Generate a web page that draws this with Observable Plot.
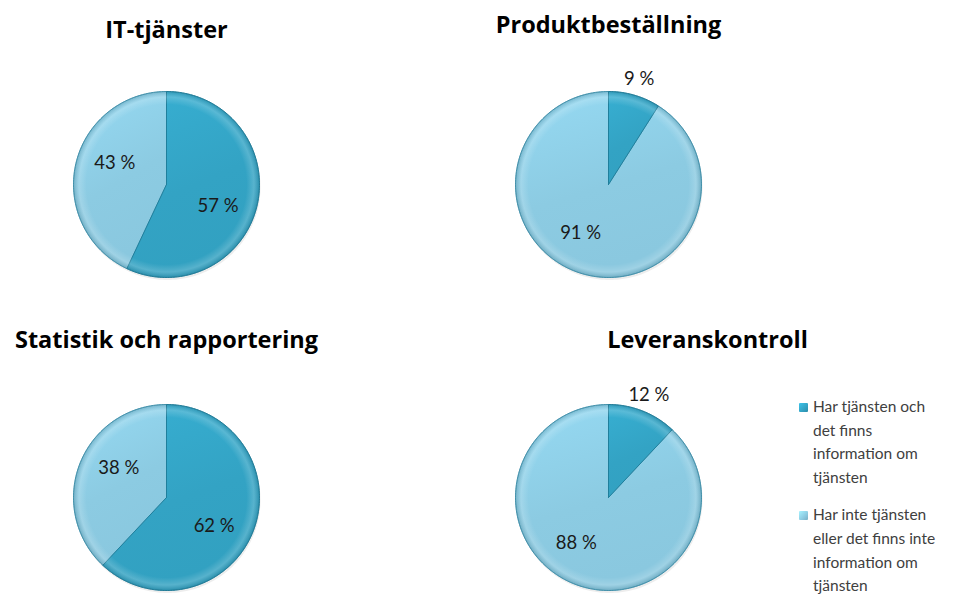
<!DOCTYPE html>
<html><head><meta charset="utf-8">
<script src="https://cdn.jsdelivr.net/npm/d3@7"></script>
<script src="https://cdn.jsdelivr.net/npm/@observablehq/plot@0.6"></script>
<style>
body{margin:0;background:#fff;font-family:Lato,"Open Sans",sans-serif;}
#wrap{position:relative;width:963px;height:596px;overflow:hidden;}
#legend{position:absolute;left:799px;top:395px;font-size:15.5px;line-height:23.6px;color:#404040;width:160px;}
.item{display:flex;align-items:flex-start;margin-bottom:14px;}
.sw{flex:0 0 9px;width:9px;height:9px;margin-top:8px;margin-right:5px;border-radius:1px;}
</style></head><body>
<div id="wrap"><div id="chart"></div><div id="legend"></div></div>
<script>
const titles = ["IT-tjänster", "Produktbeställning", "Statistik och rapportering", "Leveranskontroll"];
const harTjansten = [57, 9, 62, 12];
const harInte = [43, 91, 38, 88];
const categories = ["Har tjänsten och det finns information om tjänsten", "Har inte tjänsten eller det finns inte information om tjänsten"];
const legendLines = [["Har tjänsten och", "det finns", "information om", "tjänsten"], ["Har inte tjänsten", "eller det finns inte", "information om", "tjänsten"]];
const colors = ["#33a3c4", "#8ccbe2"];
const strokes = ["#1f7f9c", "#5fa8c2"];

const R = 0.93;
const cols = titles.map((t, i) => i % 2);
const rows = titles.map((t, i) => Math.floor(i / 2));

const polys = [];
const labels = [];
const rims = [];
titles.forEach((t, i) => {
  const vals = [harTjansten[i], harInte[i]];
  const total = d3.sum(vals);
  let acc = 0;
  vals.forEach((v, j) => {
    const a0 = acc / total * 2 * Math.PI;
    const a1 = (acc + v) / total * 2 * Math.PI;
    acc += v;
    const pts = [{x: 0, y: 0}];
    const n = Math.max(4, Math.ceil((a1 - a0) / (Math.PI / 180)));
    for (let k = 0; k <= n; k++) {
      const a = a0 + (a1 - a0) * k / n;
      pts.push({x: R * Math.sin(a), y: R * Math.cos(a)});
    }
    pts.push({x: 0, y: 0});
    pts.forEach((p, k) => polys.push({...p, k, pie: i, slice: j, key: i + "-" + j, col: cols[i], row: rows[i]}));
    const frac = v / total;
    const mid = (a0 + a1) / 2 + (frac < 0.2 ? 0 : frac > 0.8 ? 0.24 : 0.17);
    const lr = frac < 0.2 ? R * 1.18 : R * 0.6;
    labels.push({x: lr * Math.sin(mid), y: lr * Math.cos(mid), text: v + " %", col: cols[i], row: rows[i]});
  });
  for (let k = 0; k <= 360; k++) {
    const a = k / 180 * Math.PI;
    rims.push({x: R * Math.sin(a), y: R * Math.cos(a), pie: i, col: cols[i], row: rows[i]});
  }
});
const titleData = titles.map((t, i) => ({text: t, col: cols[i], row: rows[i], i}));
const titleStyle = {x: 0, y: R, text: "text", fx: "col", fy: "row", fontSize: 23.5, fontWeight: "bold", fill: "#000", fontFamily: "'Open Sans', sans-serif", lineAnchor: "middle"};

const plot = Plot.plot({
  width: 963,
  height: 596,
  marginLeft: 16,
  marginRight: 205,
  marginTop: 89,
  marginBottom: 4,
  fx: {domain: [0, 1], paddingInner: 142 / 442, paddingOuter: 0, axis: null},
  fy: {domain: [0, 1], paddingInner: 123 / 313, paddingOuter: 0, axis: null},
  x: {domain: [-1.5, 1.5], axis: null},
  y: {domain: [-0.95, 0.95], axis: null},
  style: {fontFamily: "Lato, 'Open Sans', sans-serif", background: "#fff"},
  marks: [
    Plot.line(rims, {x: d => d.x + 0.01, y: d => d.y - 0.025, z: "pie", fx: "col", fy: "row", fill: "#000", fillOpacity: 0.07, stroke: "none"}),
    Plot.line(polys.filter(d => d.slice === 1), {x: "x", y: "y", z: "key", fx: "col", fy: "row", fill: "url(#gLight)", stroke: strokes[1], strokeWidth: 1}),
    Plot.line(polys.filter(d => d.slice === 0), {x: "x", y: "y", z: "key", fx: "col", fy: "row", fill: "url(#gDark)", stroke: strokes[0], strokeWidth: 1}),
    Plot.line(rims, {x: "x", y: "y", z: "pie", fx: "col", fy: "row", fill: "url(#bevel)", stroke: "#2a7f99", strokeOpacity: 0.45, strokeWidth: 1}),
    Plot.text(labels, {x: "x", y: "y", text: "text", fx: "col", fy: "row", fontSize: 18.5, fill: "#1a1a1a"}),
    Plot.text(titleData.filter(d => d.i === 0), {...titleStyle, dy: -61}),
    Plot.text(titleData.filter(d => d.i === 1), {...titleStyle, dy: -66}),
    Plot.text(titleData.filter(d => d.i === 2), {...titleStyle, dy: -64}),
    Plot.text(titleData.filter(d => d.i === 3), {...titleStyle, dy: -64, dx: 99})
  ]
});

const defs = d3.select(plot).insert("defs", ":first-child");
function grad(id, c) {
  const g = defs.append("linearGradient").attr("id", id).attr("x1", 0).attr("y1", 0).attr("x2", 0.3).attr("y2", 1);
  g.append("stop").attr("offset", "0%").attr("stop-color", d3.color(c).brighter(0.2));
  g.append("stop").attr("offset", "60%").attr("stop-color", c);
  g.append("stop").attr("offset", "100%").attr("stop-color", d3.color(c).darker(0.04));
}
grad("gDark", colors[0]);
grad("gLight", colors[1]);
const bv = defs.append("radialGradient").attr("id", "bevel").attr("cx", 0.5).attr("cy", 0.5).attr("r", 0.5);
bv.append("stop").attr("offset", "0%").attr("stop-color", "#fff").attr("stop-opacity", 0);
bv.append("stop").attr("offset", "86%").attr("stop-color", "#fff").attr("stop-opacity", 0);
bv.append("stop").attr("offset", "94%").attr("stop-color", "#fff").attr("stop-opacity", 0.18);
bv.append("stop").attr("offset", "100%").attr("stop-color", "#0b4a5e").attr("stop-opacity", 0.22);

document.getElementById("chart").appendChild(plot);

const leg = d3.select("#legend");
categories.forEach((c, j) => {
  const it = leg.append("div").attr("class", "item").attr("title", c);
  it.append("div").attr("class", "sw").style("background", `linear-gradient(135deg, ${d3.color(colors[j]).brighter(0.5)}, ${colors[j]} 60%, ${d3.color(colors[j]).darker(0.4)})`);
  it.append("div").html(legendLines[j].join("<br>"));
});
</script>
</body></html>
